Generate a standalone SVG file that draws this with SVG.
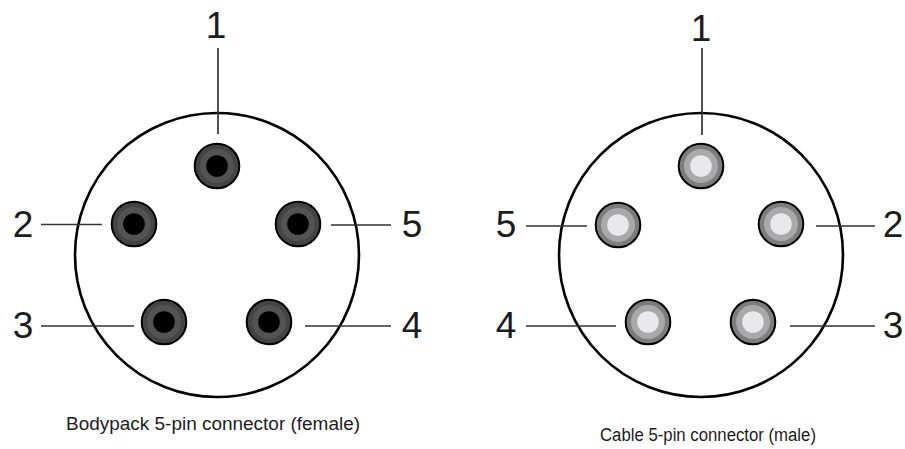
<svg xmlns="http://www.w3.org/2000/svg" width="905" height="449" viewBox="0 0 905 449">
<style>
text{font-family:"Liberation Sans",Arial,sans-serif;fill:#1c1c1c}
.n{font-size:37px;text-anchor:middle}
.c{font-size:18px}
.body{fill:#fff;stroke:#000;stroke-width:2.6}
.l{stroke:#333;stroke-width:1.7;fill:none}
</style>
<defs>
<g id="f"><circle r="22.3" fill="#444" stroke="#000" stroke-width="2"/><circle r="17" fill="#535353"/><circle r="10.8" fill="#000"/></g>
<g id="m"><circle r="22.3" fill="#7d7d7d" stroke="#000" stroke-width="2"/><circle r="17" fill="#a9a9a9"/><circle r="10.8" fill="#e9e9ec"/></g>
</defs>
<rect width="905" height="449" fill="#fff"/>
<g id="female"><circle class="body" cx="217" cy="255" r="142"/><text class="c" x="66" y="430" textLength="294" lengthAdjust="spacingAndGlyphs">Bodypack 5-pin connector (female)</text></g>
<g id="male"><circle class="body" cx="701" cy="255" r="142"/><text class="c" x="600" y="441" textLength="216" lengthAdjust="spacingAndGlyphs">Cable 5-pin connector (male)</text></g>
<g id="f1"><use href="#f" x="217" y="166"/><text class="n" x="216" y="38">1</text></g>
<g id="f2"><use href="#f" x="134" y="224"/><text class="n" x="23" y="237">2</text></g>
<g id="f3"><use href="#f" x="164" y="322"/><text class="n" x="23" y="338">3</text></g>
<g id="f4"><use href="#f" x="269" y="322"/><text class="n" x="412" y="338">4</text></g>
<g id="f5"><use href="#f" x="298" y="224"/><text class="n" x="412" y="237">5</text></g>
<g id="m1"><use href="#m" x="701" y="166"/><text class="n" x="701" y="41">1</text></g>
<g id="m2"><use href="#m" x="781" y="224"/><text class="n" x="893" y="237">2</text></g>
<g id="m3"><use href="#m" x="753" y="322"/><text class="n" x="893" y="338">3</text></g>
<g id="m4"><use href="#m" x="648" y="322"/><text class="n" x="506" y="338">4</text></g>
<g id="m5"><use href="#m" x="618" y="225"/><text class="n" x="506" y="237">5</text></g>
<g id="connectors">
<path class="l" d="M218 48V134M41 224.500H102M331 225H391M41 326H134M305 326H391"/>
<path class="l" d="M702 48V135M526 226H587M816 226H875M526 326H616M790 326H875"/>
</g>
</svg>
